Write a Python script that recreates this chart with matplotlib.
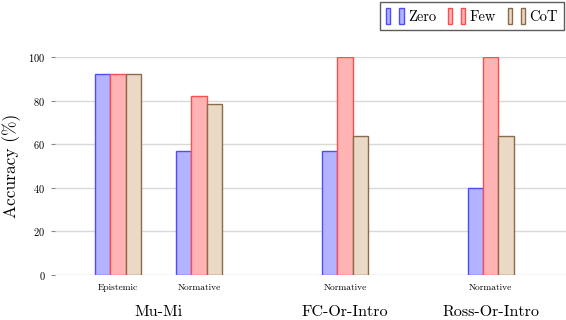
import matplotlib
matplotlib.use("Agg")
import matplotlib.pyplot as plt
from matplotlib.patches import Patch
from matplotlib.legend_handler import HandlerTuple

plt.rcParams['font.family'] = ['cmr10', 'DejaVu Serif']
plt.rcParams['axes.formatter.use_mathtext'] = True

# data
tasks = ['Epistemic', 'Normative', 'Normative', 'Normative']
datasets = ['Mu-Mi', 'FC-Or-Intro', 'Ross-Or-Intro']
zero = [92, 57, 57, 40]
few = [92, 82, 100, 100]
cot = [92, 78.5, 63.6, 63.6]
series = ['Zero', 'Few', 'CoT']

xpos = [0, 1, 2.8, 4.6]
group_x = [0.5, 2.8, 4.6]
fills = ['#b3b3ff', '#ffb3b3', '#ead9c5']
edges = ['#4d4dff', '#ff4d4d', '#8c6b4c']

fig = plt.figure(figsize=(5.66, 3.2), dpi=100)
ax = fig.add_axes([55/566, 45/320, 511/566, 218/320])

w = 0.19
for i, vals in enumerate([zero, few, cot]):
    xs = [x + (i - 1) * w for x in xpos]
    ax.bar(xs, vals, width=w, color=fills[i], edgecolor=edges[i], linewidth=1.0,
           label=series[i], zorder=3)

ax.set_xlim(-0.78, 5.53)
ax.set_ylim(0, 100)
ax.set_yticks([0, 20, 40, 60, 80, 100])
ax.yaxis.grid(True, color='#d9d9d9', linewidth=1.0, zorder=0)
for s in ax.spines.values():
    s.set_visible(False)
ax.tick_params(axis='y', labelsize=7.5, length=3, color='#888888', right=True, pad=4)
ax.set_xticks(xpos)
ax.set_xticklabels(tasks, fontsize=6.8)
ax.tick_params(axis='x', length=0, pad=6)
ax.set_ylabel('Accuracy (%)', fontsize=12.5, labelpad=5)

for gx, name in zip(group_x, datasets):
    px = ax.transData.transform((gx, 0))[0] / fig.bbox.width
    fig.text(px, 1/320, name, ha='center', va='bottom', fontsize=11.5)

handles = []
for i in range(3):
    handles.append((Patch(facecolor=fills[i], edgecolor=edges[i]),
                    Patch(facecolor=fills[i], edgecolor=edges[i])))
leg = fig.legend(handles=handles, labels=series, loc='upper right',
                 bbox_to_anchor=(1.0, 1.0), ncol=3,
                 handler_map={tuple: HandlerTuple(ndivide=None, pad=0.6)},
                 fontsize=10.5, frameon=True, fancybox=False, edgecolor='#333333',
                 handlelength=1.2, handleheight=1.3, handletextpad=0.3, columnspacing=0.8,
                 borderpad=0.4, borderaxespad=0.15)
leg.get_frame().set_linewidth(1.0)

fig.savefig('out.png', dpi=100)
